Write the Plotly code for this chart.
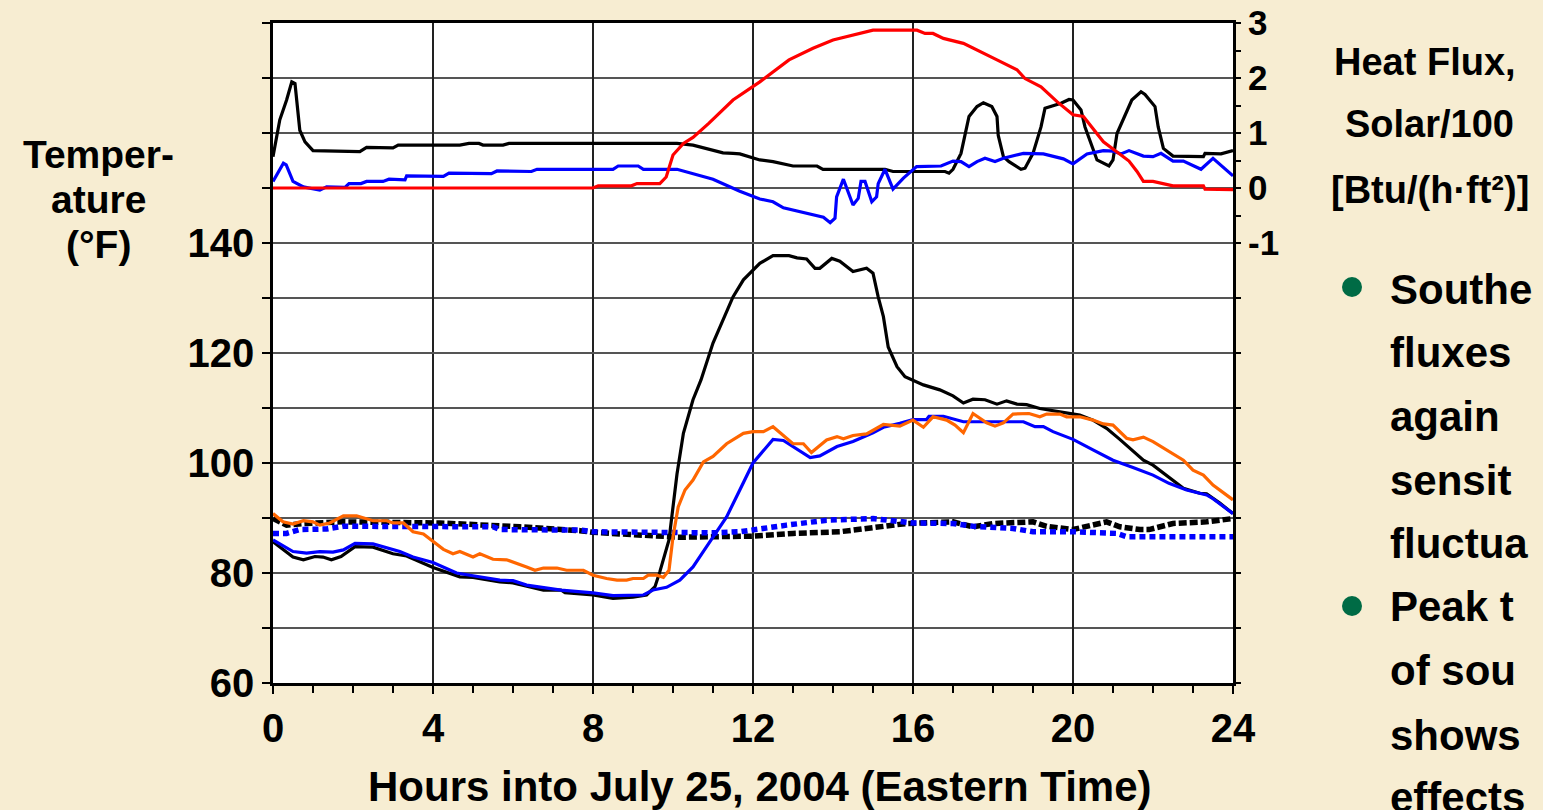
import plotly.graph_objects as go

# ── Heat flux / solar (right axis, Btu/(h·ft²), solar divided by 100) ─────────
hf_black_h = [0, 0.17, 0.34, 0.47, 0.55, 0.67, 0.8, 1.0, 2.17, 2.34, 3.0, 3.13, 4.67, 4.9,
              5.15, 5.25, 5.75, 5.9, 8.0, 10.1, 10.5, 11.25, 11.5, 11.67, 12.17, 12.5, 13.0,
              13.6, 13.75, 15.3, 15.5, 16.8, 16.9, 17.0, 17.2, 17.4, 17.6, 17.76, 17.97, 18.1,
              18.13, 18.26, 18.4, 18.7, 18.8, 19.0, 19.2, 19.3, 19.7, 19.9, 20.0, 20.2, 20.3,
              20.47, 20.6, 20.9, 21.0, 21.1, 21.26, 21.47, 21.7, 21.8, 22.05, 22.13, 22.26,
              22.5, 23.26, 23.3, 23.7, 24]
hf_black = [0.57, 1.24, 1.6, 1.93, 1.9, 1.05, 0.84, 0.68, 0.66, 0.74, 0.73, 0.78, 0.78, 0.81,
            0.81, 0.78, 0.78, 0.81, 0.81, 0.81, 0.78, 0.64, 0.63, 0.62, 0.51, 0.48, 0.4, 0.4,
            0.34, 0.34, 0.3, 0.3, 0.27, 0.34, 0.63, 1.3, 1.48, 1.55, 1.48, 1.3, 0.96, 0.57,
            0.48, 0.34, 0.36, 0.63, 1.11, 1.45, 1.54, 1.61, 1.6, 1.42, 1.11, 0.75, 0.51, 0.4,
            0.51, 0.99, 1.24, 1.6, 1.75, 1.7, 1.48, 1.11, 0.72, 0.58, 0.57, 0.63, 0.62, 0.68]

hf_blue_h = [0, 0.26, 0.33, 0.5, 0.76, 1.17, 1.34, 1.8, 1.9, 2.2, 2.34, 2.75, 2.9, 3.3, 3.34,
             4.26, 4.4, 5.46, 5.6, 6.46, 6.6, 8.5, 8.63, 9.13, 9.26, 10.1, 11.0, 11.67, 12.17,
             12.5, 12.76, 13.76, 13.93, 14.05, 14.09, 14.26, 14.5, 14.63, 14.7, 14.8, 14.97,
             15.09, 15.13, 15.3, 15.5, 15.76, 16.09, 16.7, 17.0, 17.2, 17.4, 17.6, 17.8, 18.05,
             18.26, 18.76, 19.26, 19.76, 20.0, 20.35, 20.76, 21.0, 21.2, 21.4, 21.76, 22.0,
             22.2, 22.5, 22.76, 23.2, 23.5, 24]
hf_blue = [0.12, 0.45, 0.42, 0.12, 0.02, -0.04, 0.02, 0.01, 0.08, 0.08, 0.12, 0.12, 0.16, 0.15,
           0.22, 0.21, 0.27, 0.26, 0.31, 0.3, 0.34, 0.34, 0.4, 0.4, 0.34, 0.34, 0.16, -0.06,
           -0.2, -0.25, -0.36, -0.53, -0.63, -0.55, -0.16, 0.16, -0.31, -0.19, 0.12, 0.12,
           -0.25, -0.16, 0.08, 0.34, -0.02, 0.18, 0.39, 0.4, 0.49, 0.48, 0.39, 0.48, 0.54,
           0.48, 0.54, 0.63, 0.62, 0.53, 0.44, 0.62, 0.68, 0.67, 0.62, 0.68, 0.58, 0.57, 0.63,
           0.49, 0.49, 0.34, 0.54, 0.22]

solar_h = [0, 8.0, 8.13, 8.96, 9.1, 9.67, 9.83, 10.0, 10.26, 10.5, 10.9, 11.5, 12.17, 12.5,
           12.9, 13.5, 14.0, 15.0, 16.1, 16.3, 16.5, 16.76, 17.26, 18.1, 18.6, 18.8, 19.2,
           19.6, 20.0, 20.26, 20.5, 20.76, 21.2, 21.4, 21.6, 21.76, 22.0, 22.5, 23.26, 23.3, 24]
solar = [0, 0, 0.04, 0.04, 0.08, 0.08, 0.2, 0.6, 0.81, 0.92, 1.18, 1.6, 1.93, 2.11, 2.33,
         2.54, 2.69, 2.87, 2.87, 2.81, 2.81, 2.72, 2.63, 2.33, 2.15, 1.99, 1.84, 1.57, 1.33,
         1.3, 1.09, 0.84, 0.6, 0.49, 0.3, 0.12, 0.12, 0.04, 0.04, -0.02, -0.03]

# ── Temperatures (left axis, °F) ──────────────────────────────────────────────
t_black_h = [0, 0.5, 0.76, 1.05, 1.25, 1.46, 1.7, 2.05, 2.5, 3.0, 3.34, 4.0, 4.67, 5.0, 5.67,
             6.0, 6.76, 7.2, 7.3, 8.0, 8.5, 9.0, 9.34, 9.55, 9.67, 9.9, 10.1, 10.26, 10.5,
             10.7, 11.0, 11.5, 11.76, 12.17, 12.5, 12.9, 13.1, 13.34, 13.55, 13.67, 13.97,
             14.17, 14.5, 14.84, 15.0, 15.13, 15.26, 15.38, 15.6, 15.8, 16.26, 16.67, 17.0,
             17.26, 17.5, 17.8, 18.1, 18.34, 18.6, 18.84, 19.17, 19.67, 20.17, 20.5, 20.84,
             21.17, 21.5, 21.76, 22.0, 22.34, 22.76, 23.17, 23.34, 23.67, 24]
t_black = [85.7, 82.9, 82.4, 83.0, 82.9, 82.4, 83.0, 84.8, 84.7, 83.5, 83.1, 81.0, 79.3, 79.2,
           78.4, 78.2, 76.9, 76.9, 76.4, 76.0, 75.4, 75.6, 76.0, 77.5, 80.2, 86.0, 98.0,
           105.4, 111.5, 115.1, 121.8, 130.2, 133.3, 136.3, 137.7, 137.7, 137.3, 137.1,
           135.4, 135.4, 137.2, 136.7, 134.8, 135.4, 134.5, 130.2, 126.6, 121.1, 117.5,
           115.7, 114.2, 113.3, 112.2, 110.9, 111.6, 111.5, 110.7, 111.3, 110.7, 110.6,
           109.9, 109.3, 108.7, 107.8, 106.3, 104.3, 102.1, 100.5, 99.6, 97.8, 95.4, 94.5,
           94.4, 92.7, 90.8]

t_blue_h = [0, 0.5, 0.84, 1.17, 1.5, 1.76, 2.05, 2.5, 3.17, 3.5, 4.0, 4.59, 5.0, 5.67, 6.0,
            6.34, 7.2, 8.0, 8.5, 9.26, 9.5, 9.84, 10.17, 10.5, 10.84, 11.34, 11.67, 12.0,
            12.5, 12.76, 13.43, 13.67, 14.1, 14.5, 15.0, 15.26, 15.67, 16.0, 16.34, 16.4,
            16.76, 17.26, 18.0, 18.76, 19.05, 19.26, 19.5, 20.0, 20.5, 21.0, 21.5, 22.0,
            22.4, 22.84, 23.34, 23.5, 24]
t_blue = [86.0, 83.9, 83.6, 83.9, 83.8, 84.2, 85.4, 85.3, 83.9, 82.9, 81.9, 80.0, 79.5, 78.7,
          78.6, 77.8, 76.9, 76.4, 75.9, 76.0, 76.9, 77.4, 78.7, 81.1, 84.8, 90.2, 95.1,
          100.0, 104.3, 104.1, 101.0, 101.3, 103.0, 103.9, 105.5, 106.5, 107.2, 107.9,
          107.9, 108.5, 108.5, 107.5, 107.5, 107.5, 106.6, 106.6, 105.7, 104.3, 102.4,
          100.5, 99.2, 97.8, 96.3, 95.1, 94.2, 93.5, 90.8]

t_orange_h = [0, 0.25, 0.5, 0.76, 1.0, 1.17, 1.42, 1.76, 2.09, 2.5, 2.84, 3.0, 3.26, 3.5,
              3.76, 4.0, 4.26, 4.5, 4.67, 5.0, 5.17, 5.5, 5.84, 6.34, 6.55, 6.76, 7.1, 7.34,
              7.76, 8.0, 8.34, 8.6, 8.84, 9.0, 9.26, 9.38, 9.6, 9.76, 9.9, 10.0, 10.13, 10.3,
              10.5, 10.76, 11.0, 11.34, 11.76, 12.0, 12.26, 12.5, 13.0, 13.26, 13.46, 13.84,
              14.1, 14.26, 14.5, 14.84, 15.26, 15.67, 16.0, 16.26, 16.5, 16.84, 17.05, 17.26,
              17.5, 17.84, 18.05, 18.26, 18.5, 18.9, 19.17, 19.34, 19.67, 19.84, 20.17, 20.5,
              20.76, 21.0, 21.34, 21.5, 21.76, 22.0, 22.34, 22.5, 22.76, 23.0, 23.26, 23.5, 24]
t_orange = [90.8, 89.3, 88.9, 89.5, 89.3, 88.7, 89.1, 90.4, 90.4, 89.5, 89.5, 89.1, 89.1,
            87.5, 87.1, 85.7, 84.3, 83.5, 83.9, 82.9, 83.5, 82.5, 82.4, 81.1, 80.5, 80.9,
            80.9, 80.5, 80.5, 79.6, 79.0, 78.7, 78.7, 79.0, 79.0, 79.6, 79.6, 79.2, 80.5,
            86.6, 92.0, 95.1, 96.9, 100.2, 101.2, 103.5, 105.4, 105.7, 105.7, 106.6, 103.5,
            103.5, 101.9, 104.2, 104.8, 104.4, 105.0, 105.3, 107.0, 106.7, 107.8, 106.5,
            108.4, 107.8, 106.9, 105.5, 109.0, 107.3, 106.7, 107.3, 108.9, 109.0, 108.4,
            108.9, 108.9, 108.4, 108.4, 107.8, 107.1, 106.9, 104.5, 104.2, 104.7, 103.9,
            102.4, 101.8, 100.5, 98.7, 97.8, 96.0, 93.3]

t_black_dash_h = [0, 0.34, 0.76, 1.42, 1.76, 4.17, 5.5, 6.17, 7.67, 8.0, 8.67, 10.17, 12.0,
                  13.0, 14.17, 15.17, 15.84, 17.0, 17.5, 18.0, 19.0, 19.34, 20.0, 20.84,
                  21.17, 21.67, 21.9, 22.5, 23.34, 24]
t_black_dash = [89.9, 88.7, 89.0, 89.1, 89.3, 89.1, 88.7, 88.4, 87.7, 87.4, 87.1, 86.5, 86.7,
                87.2, 87.5, 88.4, 89.0, 89.3, 88.4, 89.0, 89.3, 88.5, 87.9, 89.3, 88.4, 87.9,
                87.9, 89.0, 89.3, 89.9]

t_blue_dash_h = [0, 0.34, 0.67, 1.34, 1.76, 3.84, 5.5, 5.67, 7.67, 8.0, 10.0, 11.0, 11.67,
                 12.0, 12.84, 13.84, 15.0, 16.0, 17.0, 17.5, 17.84, 18.5, 19.0, 20.0, 21.09,
                 21.34, 24]
t_blue_dash = [87.2, 87.2, 87.9, 88.0, 88.5, 88.5, 88.4, 87.9, 87.8, 87.5, 87.2, 87.3, 87.5,
               87.9, 88.7, 89.6, 89.9, 89.1, 89.0, 88.5, 88.3, 88.1, 87.5, 87.5, 87.2, 86.6,
               86.6]

x_tick_vals = [0, 4, 8, 12, 16, 20, 24]
left_tick_vals = [60, 80, 100, 120, 140]

left_title = ["Temper-", "ature", "(°F)"]
right_title = ["Heat Flux,", "Solar/100", "[Btu/(h·ft²)]"]
bullet_lines = ["Southe", "fluxes", "again", "sensit", "fluctua", "Peak t", "of sou",
                "shows", "effects"]

FONT = "Arial, Liberation Sans, sans-serif"
BG = "#F7EDD2"

fig = go.Figure()

series = [
    (hf_black_h, hf_black, "y2", "black", None, 3.2),
    (hf_blue_h, hf_blue, "y2", "#0000FF", None, 3.2),
    (solar_h, solar, "y2", "#FF0000", None, 3.2),
    (t_black_dash_h, t_black_dash, "y", "black", "8px,3px", 5.5),
    (t_blue_dash_h, t_blue_dash, "y", "#0000FF", "6px,4px", 5.5),
    (t_black_h, t_black, "y", "black", None, 3.2),
    (t_blue_h, t_blue, "y", "#0000FF", None, 3.2),
    (t_orange_h, t_orange, "y", "#FF6600", None, 3.2),
]
for xs, ys, ax, color, dash, width in series:
    fig.add_trace(go.Scatter(
        x=xs, y=ys, yaxis=ax, mode="lines",
        line=dict(color=color, width=width, dash=dash or "solid"),
        showlegend=False, hoverinfo="skip",
    ))

# right axis: ticks every 0.5 above -1, every 1 below
r_vals = [v / 2 for v in range(-2, 7)] + list(range(-9, -1))
r_text = [str(int(v)) if (v >= -1 and v == int(v)) else "" for v in r_vals]

fig.update_layout(
    width=1543, height=810,
    margin=dict(l=273, r=310, t=23, b=127, autoexpand=False),
    paper_bgcolor=BG, plot_bgcolor="white",
    font=dict(family=FONT, color="black"),
    xaxis=dict(
        range=[0, 24], tickvals=x_tick_vals, ticks="outside", ticklen=8, tickwidth=2,
        tickcolor="black", showgrid=True, gridcolor="#222222", gridwidth=1.5,
        showline=True, linecolor="black", linewidth=2.5, mirror=True, zeroline=False,
        tickfont=dict(size=40, weight="bold"), automargin=False, ticklabeloverflow="allow",
        minor=dict(dtick=1, ticks="outside", ticklen=7, tickwidth=1.5, tickcolor="black",
                   showgrid=False),
    ),
    yaxis=dict(
        range=[60, 180], tickvals=left_tick_vals, ticks="outside", ticklen=8, tickwidth=2,
        tickcolor="black", showgrid=True, gridcolor="#555555", gridwidth=1.5,
        showline=True, linecolor="black", linewidth=2.5, mirror=True, zeroline=False,
        tickfont=dict(size=40, weight="bold"), automargin=False, ticklabeloverflow="allow",
        minor=dict(dtick=10, ticks="outside", ticklen=8, tickwidth=1.5, tickcolor="black",
                   showgrid=True, gridcolor="#555555", gridwidth=1.5),
    ),
    yaxis2=dict(
        range=[-9, 3], overlaying="y", side="right", tickmode="array",
        tickvals=r_vals, ticktext=r_text, ticks="outside", ticklen=7, tickwidth=1.5,
        tickcolor="black", showgrid=False, zeroline=False, showline=False,
        tickfont=dict(size=35, weight="bold"), automargin=False, ticklabeloverflow="allow",
    ),
)


def px_x(px):
    return (px - 273) / 960


def px_y(py):
    return (683 - py) / 660


ann = []
for txt, ly in zip(left_title, [155, 199, 245]):
    ann.append(dict(text=txt, x=px_x(98), y=px_y(ly), font=dict(size=39, weight="bold")))
ann.append(dict(text="Hours into July 25, 2004 (Eastern Time)", x=px_x(760), y=px_y(787),
                font=dict(size=42, weight="bold")))
for txt, cx, ly in zip(right_title, [1425, 1429, 1430], [62, 124, 190]):
    ann.append(dict(text=txt, x=px_x(cx), y=px_y(ly), font=dict(size=38, weight="bold")))

line_ys = [289, 352, 416, 480, 543, 606, 670, 735, 797]
for txt, ly in zip(bullet_lines, line_ys):
    ann.append(dict(text=txt, x=px_x(1388), y=px_y(ly), xanchor="left",
                    font=dict(size=42, weight="bold")))

for a in ann:
    a.setdefault("xanchor", "center")
    fig.add_annotation(xref="paper", yref="paper", yanchor="middle", showarrow=False, **a)

# green bullet dots
for ly in (287, 606):
    fig.add_shape(type="circle", xref="paper", yref="paper",
                  x0=px_x(1342), x1=px_x(1362), y0=px_y(ly + 10), y1=px_y(ly - 10),
                  fillcolor="#006B45", line=dict(width=0))

# drop the default page margin so the figure fills the window
page_js = ("document.body.style.margin='0';document.body.style.overflow='hidden';"
           "document.body.style.background='" + BG + "';")
fig.write_html("out.html", post_script=page_js, config={"displayModeBar": False})
